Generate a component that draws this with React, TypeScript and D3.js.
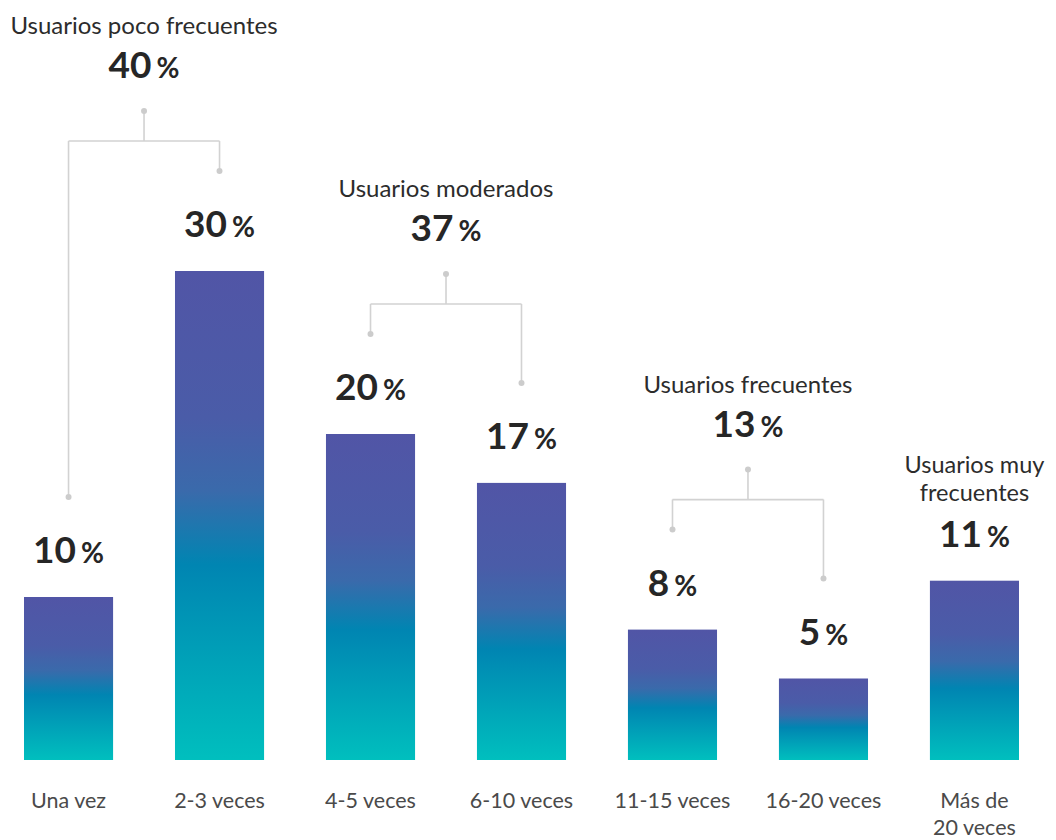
import React from "react";
import * as d3 from "d3";

const categories = ["Una vez", "2-3 veces", "4-5 veces", "6-10 veces", "11-15 veces", "16-20 veces", "Más de|20 veces"];
const values = [10, 30, 20, 17, 8, 5, 11];
const groupNames = [["Usuarios poco frecuentes"], ["Usuarios moderados"], ["Usuarios frecuentes"], ["Usuarios muy", "frecuentes"]];
const groupTotals = [40, 37, 13, 11];
const groupMembers = [[0, 1], [2, 3], [4, 5], [6]];

const W = 1056;
const H = 840;
const FONT = "Lato, 'Open Sans', sans-serif";

function Pct({ x, y, v }: { x: number; y: number; v: number }) {
  return (
    <text x={x} y={y} textAnchor="middle" fontFamily={FONT} fontWeight={700} fill="#262626">
      <tspan fontSize={37}>{v}</tspan>
      <tspan fontSize={28} dx={5}>%</tspan>
    </text>
  );
}

export default function App() {
  const x = d3.scaleBand<number>().domain(d3.range(values.length)).range([24, 1019]).paddingInner(0.41).paddingOuter(0);
  const y = d3.scaleLinear().domain([0, 30]).range([760, 271]);
  const bw = x.bandwidth();
  const cx = (i: number) => (x(i) as number) + bw / 2;

  return (
    <svg width={W} height={H} style={{ position: "absolute", left: 0, top: 0 }}>
      <defs>
        <linearGradient id="barGrad" x1="0" y1="0" x2="0" y2="1">
          <stop offset="0" stopColor="#5155a6" />
          <stop offset="0.3" stopColor="#4a5ca8" />
          <stop offset="0.45" stopColor="#3a6aab" />
          <stop offset="0.6" stopColor="#0085b2" />
          <stop offset="1" stopColor="#00bfbe" />
        </linearGradient>
      </defs>
      {values.map((v, i) => (
        <rect key={"b" + i} x={x(i)} y={y(v)} width={bw} height={y(0) - y(v)} fill="url(#barGrad)" />
      ))}
      {values.map((v, i) => (
        <Pct key={"l" + i} x={cx(i)} y={y(v) - 34} v={v} />
      ))}
      {categories.map((c, i) =>
        c.split("|").map((line, k) => (
          <text key={"c" + i + "_" + k} x={cx(i)} y={808 + k * 27} textAnchor="middle" fontFamily={FONT} fontSize={21.5} fill="#4a4a4a">
            {line}
          </text>
        ))
      )}
      {groupMembers.map((m, g) => {
        if (m.length === 1) {
          const i = m[0];
          const vb = y(values[i]) - 34;
          const n = groupNames[g].length;
          return (
            <g key={"g" + g}>
              {groupNames[g].map((t, k) => (
                <text key={k} x={cx(i)} y={vb - 46 - (n - 1 - k) * 28} textAnchor="middle" fontFamily={FONT} fontSize={23.5} fill="#2c2c2c">
                  {t}
                </text>
              ))}
            </g>
          );
        }
        const dots = m.map((i) => ({ x: cx(i), y: y(values[i]) - 100 }));
        const topY = (d3.min(dots, (d) => d.y) as number) - 60;
        const hY = topY + 30;
        const mx = (dots[0].x + dots[dots.length - 1].x) / 2;
        const path = `M${mx},${topY}V${hY}` + dots.map((d) => `M${d.x},${hY}V${d.y}`).join("") + `M${dots[0].x},${hY}H${dots[dots.length - 1].x}`;
        return (
          <g key={"g" + g}>
            <path d={path} fill="none" stroke="#d2d2d2" strokeWidth={1.6} />
            <circle cx={mx} cy={topY} r={3} fill="#cccccc" />
            {dots.map((d, k) => (
              <circle key={k} cx={d.x} cy={d.y} r={3} fill="#cccccc" />
            ))}
            <Pct x={mx} y={topY - 33} v={groupTotals[g]} />
            {groupNames[g].map((t, k) => (
              <text key={k} x={mx} y={topY - 77 + k * 26} textAnchor="middle" fontFamily={FONT} fontSize={24} fill="#2c2c2c">
                {t}
              </text>
            ))}
          </g>
        );
      })}
    </svg>
  );
}
